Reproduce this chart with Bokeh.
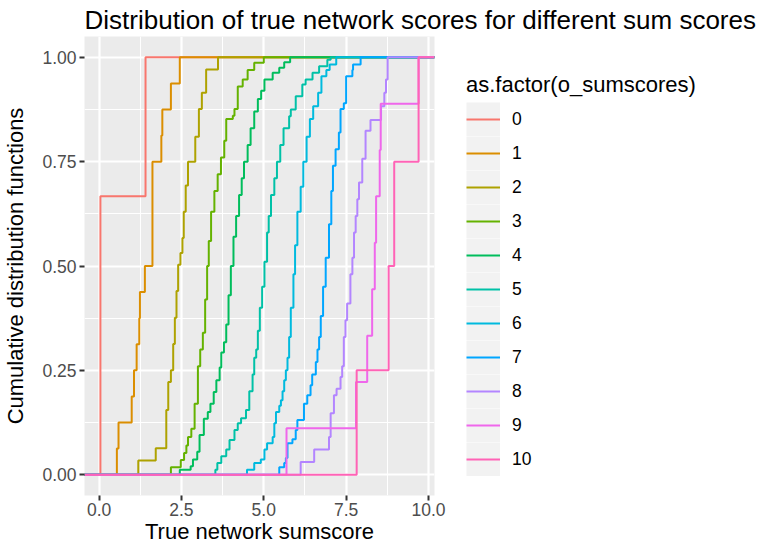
from bokeh.plotting import figure
from bokeh.models import Range1d, FixedTicker, Legend, LegendItem
from bokeh.embed import file_html
from bokeh.resources import INLINE

# ---------------- data ----------------
categories = ["0", "1", "2", "3", "4", "5", "6", "7", "8", "9", "10"]
colors = ["#F8766D", "#DB8E00", "#AEA200", "#64B200", "#00BD5C", "#00C1A7",
          "#00BADE", "#00A6FF", "#B385FF", "#EF67EB", "#FF63B6"]

# ECDF jump locations (x) and cumulative level after each jump (y)
c0_x = [0.04, 1.41]
c0_y = [0.667, 1.0]

c1_x = [0.54, 0.59, 0.99, 1.06, 1.14, 1.22, 1.24, 1.39, 1.62, 1.89, 1.92, 2.18, 2.45]
c1_y = [0.0625, 0.125, 0.1875, 0.25, 0.3125, 0.375, 0.4375, 0.5, 0.75, 0.8125, 0.875, 0.9375, 1.0]

c2_x = [1.19, 1.72, 2.04, 2.10, 2.18, 2.25, 2.30, 2.35, 2.40, 2.47, 2.53, 2.57, 2.63, 2.70,
        2.92, 3.03, 3.12, 3.25, 3.61]
c2_y = [0.034, 0.063, 0.155, 0.222, 0.25, 0.313, 0.376, 0.44, 0.503, 0.531, 0.567, 0.63, 0.693, 0.75,
        0.81, 0.876, 0.915, 0.971, 1.0]

c3_x = [2.18, 2.48, 2.58, 2.65, 2.70, 2.80, 2.90, 3.00, 3.07, 3.15, 3.22, 3.28, 3.33, 3.40, 3.50,
        3.60, 3.70, 3.80, 3.86, 4.06, 4.11, 4.21, 4.36, 4.51, 4.71, 5.00]
c3_y = [0.018, 0.035, 0.052, 0.07, 0.09, 0.11, 0.17, 0.26, 0.30, 0.34, 0.42, 0.50, 0.56, 0.63, 0.68,
        0.72, 0.76, 0.80, 0.852, 0.86, 0.876, 0.93, 0.947, 0.97, 0.987, 1.0]

c4_x = [2.45, 2.78, 2.85, 2.98, 3.05, 3.18, 3.30, 3.38, 3.48, 3.56, 3.66, 3.71, 3.79, 3.86, 3.93,
        4.00, 4.08, 4.16, 4.25, 4.33, 4.40, 4.51, 4.60, 4.71, 4.82, 4.92, 5.02, 5.27, 5.47, 5.62, 5.80]
c4_y = [0.012, 0.02, 0.036, 0.055, 0.095, 0.134, 0.15, 0.17, 0.198, 0.226, 0.257, 0.293, 0.317, 0.36, 0.43,
        0.50, 0.57, 0.62, 0.67, 0.71, 0.75, 0.79, 0.83, 0.87, 0.90, 0.92, 0.947, 0.963, 0.975, 0.988, 1.0]

c5_x = [3.53, 3.59, 3.71, 3.86, 3.96, 4.11, 4.21, 4.31, 4.46, 4.56, 4.66, 4.71, 4.77, 4.82, 4.88,
        4.95, 5.02, 5.10, 5.15, 5.22, 5.32, 5.40, 5.50, 5.60, 5.77, 5.82, 5.97, 6.17, 6.27, 6.48,
        6.68, 6.93, 7.03]
c5_y = [0.012, 0.028, 0.044, 0.06, 0.083, 0.107, 0.123, 0.135, 0.155, 0.20, 0.24, 0.28, 0.30, 0.345, 0.40,
        0.45, 0.51, 0.58, 0.62, 0.67, 0.71, 0.75, 0.79, 0.83, 0.859, 0.875, 0.907, 0.935, 0.947, 0.963,
        0.979, 0.994, 1.0]

c6_x = [4.49, 4.71, 4.91, 5.02, 5.10, 5.27, 5.32, 5.37, 5.47, 5.52, 5.57, 5.62, 5.67, 5.72, 5.77,
        5.82, 5.90, 5.95, 6.02, 6.12, 6.20, 6.30, 6.40, 6.50, 6.65, 6.75, 6.90, 7.00, 7.20]
c6_y = [0.012, 0.028, 0.036, 0.06, 0.075, 0.09, 0.123, 0.15, 0.165, 0.178, 0.20, 0.226, 0.25, 0.28, 0.33,
        0.40, 0.48, 0.55, 0.63, 0.69, 0.75, 0.81, 0.852, 0.883, 0.915, 0.955, 0.97, 0.983, 1.0]

c7_x = [5.47, 5.62, 5.67, 5.72, 5.87, 5.97, 6.02, 6.22, 6.32, 6.42, 6.47, 6.58, 6.63, 6.68, 6.73,
        6.80, 6.88, 6.98, 7.05, 7.10, 7.18, 7.28, 7.33, 7.43, 7.50, 7.69, 7.71, 7.94]
c7_y = [0.018, 0.028, 0.04, 0.075, 0.085, 0.107, 0.131, 0.17, 0.19, 0.214, 0.24, 0.27, 0.30, 0.33, 0.38,
        0.45, 0.52, 0.60, 0.68, 0.74, 0.78, 0.82, 0.876, 0.89, 0.955, 0.97, 0.983, 1.0]

c8_x = [6.12, 6.53, 6.98, 7.03, 7.13, 7.21, 7.33, 7.38, 7.43, 7.48, 7.53, 7.63, 7.69, 7.74, 7.79,
        7.84, 7.89, 7.99, 8.09, 8.24, 8.56, 8.66, 8.71, 8.76]
c8_y = [0.03, 0.06, 0.09, 0.147, 0.19, 0.206, 0.234, 0.26, 0.33, 0.37, 0.41, 0.48, 0.52, 0.58, 0.62,
        0.66, 0.70, 0.757, 0.824, 0.85, 0.883, 0.915, 0.947, 1.0]

c9_x = [5.69, 7.80, 8.14, 8.29, 8.37, 8.41, 8.52, 8.55, 9.70]
c9_y = [0.111, 0.222, 0.333, 0.444, 0.556, 0.667, 0.778, 0.889, 1.0]

c10_x = [7.82, 8.79, 8.96, 9.70]
c10_y = [0.25, 0.5, 0.75, 1.0]

curves_x = [c0_x, c1_x, c2_x, c3_x, c4_x, c5_x, c6_x, c7_x, c8_x, c9_x, c10_x]
curves_y = [c0_y, c1_y, c2_y, c3_y, c4_y, c5_y, c6_y, c7_y, c8_y, c9_y, c10_y]

x_ticks = [0.0, 2.5, 5.0, 7.5, 10.0]
x_tick_labels = ["0.0", "2.5", "5.0", "7.5", "10.0"]
y_ticks = [0.0, 0.25, 0.5, 0.75, 1.0]
y_tick_labels = ["0.00", "0.25", "0.50", "0.75", "1.00"]

title_text = "Distribution of true network scores for different sum scores"
x_label = "True network sumscore"
y_label = "Cumulative distribution functions"
legend_title = "as.factor(o_sumscores)"

# ---------------- ranges (ggplot-like 5% expansion) ----------------
all_x = [v for xs in curves_x for v in xs]
xmin, xmax = min(all_x), max(all_x)
xpad = 0.05 * (xmax - xmin)
x_lo, x_hi = xmin - xpad, xmax + xpad
y_lo, y_hi = -0.05, 1.05

x_minor = [(a + b) / 2 for a, b in zip(x_ticks[:-1], x_ticks[1:])]
y_minor = [(a + b) / 2 for a, b in zip(y_ticks[:-1], y_ticks[1:])]

FONT = "Liberation Sans"

p = figure(frame_width=350, frame_height=459,
           x_range=Range1d(x_lo, x_hi), y_range=Range1d(y_lo, y_hi),
           output_backend="svg", toolbar_location=None,
           title=title_text,
           min_border_left=0, min_border_right=0,
           min_border_top=0, min_border_bottom=0)

p.background_fill_color = "#EBEBEB"
p.border_fill_color = "white"
p.outline_line_color = None

p.title.text_font = FONT
p.title.text_font_size = "26px"
p.title.text_font_style = "normal"
p.title.text_color = "black"
p.title.align = "left"
p.title.standoff = 4

xt = FixedTicker(ticks=x_ticks, minor_ticks=x_minor)
yt = FixedTicker(ticks=y_ticks, minor_ticks=y_minor)
p.xaxis.ticker = xt
p.yaxis.ticker = yt
p.xgrid.ticker = xt
p.ygrid.ticker = yt

for g in (p.xgrid, p.ygrid):
    g.grid_line_color = "white"
    g.grid_line_width = 2.2
    g.minor_grid_line_color = "white"
    g.minor_grid_line_width = 1.1

p.xaxis.major_label_overrides = dict(zip(x_ticks, x_tick_labels))
p.yaxis.major_label_overrides = dict(zip(y_ticks, y_tick_labels))
p.xaxis.axis_label = x_label
p.yaxis.axis_label = y_label

for ax in (p.xaxis, p.yaxis):
    ax.axis_line_color = None
    ax.major_tick_line_color = "#333333"
    ax.major_tick_line_width = 2
    ax.major_tick_in = 0
    ax.major_tick_out = 5
    ax.minor_tick_line_color = None
    ax.major_label_text_font = FONT
    ax.major_label_text_font_size = "17.5px"
    ax.major_label_text_color = "#4D4D4D"
    ax.axis_label_text_font = FONT
    ax.axis_label_text_font_size = "22px"
    ax.axis_label_text_font_style = "normal"
    ax.axis_label_text_color = "black"

p.xaxis.major_label_standoff = 2
p.xaxis.axis_label_standoff = 0
p.yaxis.major_label_standoff = 3
p.yaxis.axis_label_standoff = 11

# ---------------- ECDF step lines ----------------
renderers = []
for xs, ys, col in zip(curves_x, curves_y, colors):
    sx = [x_lo] + list(xs) + [x_hi]
    sy = [0.0] + list(ys) + [1.0]
    r = p.step(sx, sy, mode="after", line_color=col, line_width=2)
    renderers.append(r)

# grey key background: a placeholder line with one NaN point (draws nothing in the
# plot, but gives the legend a grey band behind every key, like ggplot's legend.key)
nan = float("nan")
key_bg = p.line(x=[nan], y=[nan], line_color="#F2F2F2", line_width=34)

items = [LegendItem(label=c, renderers=[key_bg, r]) for c, r in zip(categories, renderers)]
legend = Legend(items=items, title=legend_title, location=(32, 19),
                title_text_font=FONT, title_text_font_size="22px",
                title_text_font_style="normal", title_text_color="black",
                title_standoff=4,
                label_text_font=FONT, label_text_font_size="17.5px", label_text_color="black",
                label_standoff=12, glyph_width=34, glyph_height=34, label_height=34,
                label_width=209,
                spacing=0, padding=10, margin=23,
                border_line_color=None, background_fill_color="white")
p.add_layout(legend, "right")

open("out.html", "w").write(file_html(p, INLINE))
